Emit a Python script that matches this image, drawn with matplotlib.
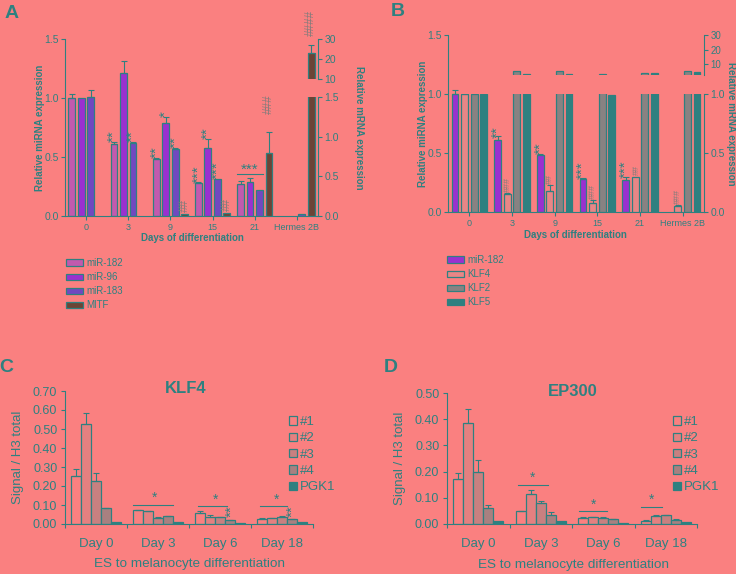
import numpy as np
import matplotlib
matplotlib.use('Agg')
from matplotlib import pyplot as plt
from matplotlib.patches import Patch

plt.rcParams['font.family'] = ['Liberation Sans', 'DejaVu Sans']

BG = '#FA8080'
TEAL = '#2E8080'
HASH = '#857B7B'

# --- panel A: miRNA / MITF time course
days = ['0', '3', '9', '15', '21', 'Hermes 2B']
mir182_a = [1.0, 0.61, 0.48, 0.28, 0.27, np.nan]
mir182_a_err = [0.03, 0.02, 0.01, 0.01, 0.03, 0]
mir96_a = [1.0, 1.21, 0.79, 0.58, 0.29, np.nan]
mir96_a_err = [0.0, 0.10, 0.05, 0.07, 0.03, 0]
mir183_a = [1.01, 0.62, 0.57, 0.31, 0.22, 0.02]
mir183_a_err = [0.06, 0.01, 0.01, 0.0, 0.0, 0]
mitf_a = [np.nan, np.nan, 0.03, 0.04, 0.80, 23.0]
mitf_a_err = [0, 0, 0, 0, 0.26, 4.0]
colors_a = ['#C25AAE', '#9A30D0', '#7148C0', '#6B4436']
labels_a = ['miR-182', 'miR-96', 'miR-183', 'MITF']

# --- panel B: miR-182 / KLF time course
mir182_b = [1.0, 0.61, 0.48, 0.28, 0.27, np.nan]
mir182_b_err = [0.03, 0.03, 0.01, 0.01, 0.03, 0]
klf4_b = [1.0, 0.15, 0.18, 0.08, 0.30, 0.05]
klf4_b_err = [0.07, 0.01, 0.05, 0.02, 0.0, 0.01]
klf2_b = [1.0, 5.0, 5.0, 3.0, 4.0, 5.5]
klf5_b = [1.0, 3.2, 3.2, 0.99, 4.0, 4.5]
colors_b = ['#9A30D0', '#E88686', '#888282', '#2E8080']
labels_b = ['miR-182', 'KLF4', 'KLF2', 'KLF5']

# --- panels C / D: ChIP
chip_days = ['Day 0', 'Day 3', 'Day 6', 'Day 18']
chip_labels = ['#1', '#2', '#3', '#4', 'PGK1']
chip_colors = [BG, '#E48080', '#C88080', '#A88080', TEAL]
klf4_c = [[0.252, 0.072, 0.058, 0.026],
          [0.527, 0.066, 0.035, 0.030],
          [0.224, 0.033, 0.035, 0.038],
          [0.084, 0.040, 0.019, 0.026],
          [0.010, 0.010, 0.004, 0.008]]
klf4_c_err = [[0.035, 0.003, 0.012, 0.007],
              [0.058, 0.002, 0.012, 0.003],
              [0.044, 0.002, 0.002, 0.003],
              [0.002, 0.004, 0.002, 0.002],
              [0.0, 0.0, 0.0, 0.0]]
ep300_d = [[0.172, 0.048, 0.023, 0.013],
           [0.385, 0.116, 0.025, 0.032],
           [0.198, 0.080, 0.024, 0.033],
           [0.061, 0.036, 0.018, 0.017],
           [0.011, 0.011, 0.002, 0.007]]
ep300_d_err = [[0.023, 0.002, 0.002, 0.002],
               [0.055, 0.015, 0.002, 0.003],
               [0.047, 0.008, 0.002, 0.002],
               [0.013, 0.009, 0.002, 0.002],
               [0.0, 0.0, 0.0, 0.0]]

W, H = 736, 574
fig = plt.figure(figsize=(W / 100, H / 100), dpi=100, facecolor=BG)


def box(x0, y0, x1, y1):  # pixel box -> figure fraction
    return [x0 / W, 1 - y1 / H, (x1 - x0) / W, (y1 - y0) / H]


def style(ax, left=True, right=False, bottom=True, fs=7.5, pad=1.5):
    ax.set_facecolor('none')
    for s in ['top', 'left', 'right', 'bottom']:
        ax.spines[s].set_color(TEAL)
    ax.spines['top'].set_visible(False)
    ax.spines['left'].set_visible(left)
    ax.spines['right'].set_visible(right)
    ax.spines['bottom'].set_visible(bottom)
    ax.tick_params(which='both', colors=TEAL, labelcolor=TEAL, labelsize=fs, length=3,
                   width=0.8, pad=pad)


def bars(ax, x, vals, err, color):
    vals = np.array(vals, dtype=float)
    ax.bar(x, vals, width=0.16, color=color, edgecolor=TEAL, linewidth=0.9)
    if err is not None:
        err = np.array(err, dtype=float)
        m = ~np.isnan(vals) & (err > 0)
        ax.errorbar(x[m], vals[m], yerr=[np.zeros(m.sum()), err[m]], fmt='none',
                    ecolor=TEAL, elinewidth=0.8, capsize=2, capthick=0.8)


def mark(ax, x, y, s, color=TEAL, size=11, rot=90):
    ax.text(x, y, s, rotation=rot, ha='center', va='bottom', fontsize=size,
            color=color, clip_on=False)


g = np.arange(6)
off4 = (np.arange(4) - 1.5) * 0.225

# ================= A
axA = fig.add_axes(box(65, 39, 318, 216))
axA_lo = fig.add_axes(box(65, 97, 318, 216))
axA_hi = fig.add_axes(box(65, 39, 318, 79))
style(axA)
style(axA_lo, left=False, right=True, bottom=False)
style(axA_hi, left=False, right=True, bottom=False)
for a in (axA, axA_lo, axA_hi):
    a.set_xlim(-0.5, 5.5)
axA.set_ylim(0, 1.5)
axA.set_yticks([0, 0.5, 1.0, 1.5])
axA.set_yticklabels(['0.0', '0.5', '1.0', '1.5'])
axA.set_xticks(g)
axA.set_xticklabels(days, fontsize=6.5)
axA.tick_params(axis='x', pad=2)
axA_lo.set_ylim(0, 1.5)
axA_lo.set_yticks([0, 0.5, 1.0, 1.5])
axA_lo.set_yticklabels(['0.0', '0.5', '1.0', '1.5'])
axA_hi.set_ylim(10, 30)
axA_hi.set_yticks([10, 20, 30])
for a in (axA_lo, axA_hi):
    a.set_xticks([])
    a.yaxis.tick_right()

bars(axA, g + off4[0], mir182_a, mir182_a_err, colors_a[0])
bars(axA, g + off4[1], mir96_a, mir96_a_err, colors_a[1])
bars(axA, g + off4[2], mir183_a, mir183_a_err, colors_a[2])
bars(axA_lo, g + off4[3], mitf_a, mitf_a_err, colors_a[3])
bars(axA_hi, g + off4[3], mitf_a, mitf_a_err, colors_a[3])

mark(axA, 1 + off4[0], 0.63, '**')
mark(axA, 1 + off4[2], 0.63, '**')
mark(axA, 2 + off4[0], 0.49, '**')
mark(axA, 2 + off4[1], 0.84, '*')
mark(axA, 2 + off4[2], 0.58, '**')
mark(axA, 3 + off4[0], 0.28, '***')
mark(axA, 3 + off4[1], 0.65, '**')
mark(axA, 3 + off4[2], 0.31, '***')
axA.plot([4 + off4[0] - 0.08, 4 + off4[2] + 0.08], [0.36, 0.36], color=TEAL, lw=0.8)
mark(axA, 4 + off4[1], 0.33, '***', rot=0)
mark(axA_lo, 2 + off4[3], 0.05, '##', HASH, 8.5)
mark(axA_lo, 3 + off4[3], 0.06, '##', HASH, 8.5)
mark(axA_lo, 4 + off4[3], 1.28, '###', HASH, 8.5)
mark(axA_hi, 5 + off4[3], 31.5, '####', HASH, 8.5)

fig.text(40 / W, 1 - 127.5 / H, 'Relative miRNA expression', rotation=90, ha='center',
         va='center', fontsize=7, fontweight='bold', color=TEAL)
fig.text(358.5 / W, 1 - 127.5 / H, 'Relative mRNA expression', rotation=270, ha='center',
         va='center', fontsize=7, fontweight='bold', color=TEAL)
fig.text(192 / W, 1 - 238 / H, 'Days of differentiation', ha='center', va='center',
         fontsize=7, fontweight='bold', color=TEAL)
fig.legend([Patch(facecolor=c, edgecolor=TEAL, linewidth=0.9) for c in colors_a], labels_a,
           loc='upper left', bbox_to_anchor=(66 / W, 1 - 258 / H), frameon=False,
           fontsize=7, labelcolor=TEAL, handlelength=1.75, handleheight=0.6,
           labelspacing=0.42, borderpad=0, borderaxespad=0, handletextpad=0.3)

# ================= B
axB = fig.add_axes(box(448, 35, 704, 212))
axB_lo = fig.add_axes(box(448, 94, 704, 212))
axB_hi = fig.add_axes(box(448, 35, 704, 75))
style(axB)
style(axB_lo, left=False, right=True, bottom=False)
style(axB_hi, left=False, right=True, bottom=False)
for a in (axB, axB_lo, axB_hi):
    a.set_xlim(-0.5, 5.5)
axB.set_ylim(0, 1.5)
axB.set_yticks([0, 0.5, 1.0, 1.5])
axB.set_yticklabels(['0.0', '0.5', '1.0', '1.5'])
axB.set_xticks(g)
axB.set_xticklabels(days, fontsize=6.5)
axB.tick_params(axis='x', pad=2)
axB_lo.set_ylim(0, 1.0)
axB_lo.set_yticks([0, 0.5, 1.0])
axB_lo.set_yticklabels(['0.0', '0.5', '1.0'])
axB_hi.set_ylim(2.5, 30)
axB_hi.set_yticks([10, 20, 30])
axB_hi.tick_params(labelsize=7)
for a in (axB_lo, axB_hi):
    a.set_xticks([])
    a.yaxis.tick_right()

bars(axB, g + off4[0], mir182_b, mir182_b_err, colors_b[0])
for a in (axB_lo, axB_hi):
    bars(a, g + off4[1], klf4_b, klf4_b_err, colors_b[1])
    bars(a, g + off4[2], klf2_b, None, colors_b[2])
    bars(a, g + off4[3], klf5_b, None, colors_b[3])

mark(axB, 1 + off4[0], 0.63, '**')
mark(axB, 2 + off4[0], 0.49, '**')
mark(axB, 3 + off4[0], 0.28, '***')
mark(axB, 4 + off4[0], 0.29, '***')
mark(axB_lo, 1 + off4[1], 0.17, '###', HASH, 6.5)
mark(axB_lo, 2 + off4[1], 0.24, '##', HASH, 6.5)
mark(axB_lo, 3 + off4[1], 0.11, '###', HASH, 6.5)
mark(axB_lo, 4 + off4[1] + 0.03, 0.31, '##', HASH, 6.5)
mark(axB_lo, 5 + off4[1], 0.07, '###', HASH, 6.5)

fig.text(423 / W, 1 - 124 / H, 'Relative miRNA expression', rotation=90, ha='center',
         va='center', fontsize=7, fontweight='bold', color=TEAL)
fig.text(731 / W, 1 - 124 / H, 'Relative mRNA expression', rotation=270, ha='center',
         va='center', fontsize=7, fontweight='bold', color=TEAL)
fig.text(575 / W, 1 - 235 / H, 'Days of differentiation', ha='center', va='center',
         fontsize=7, fontweight='bold', color=TEAL)
fig.legend([Patch(facecolor=c, edgecolor=TEAL, linewidth=0.9) for c in colors_b], labels_b,
           loc='upper left', bbox_to_anchor=(447 / W, 1 - 255 / H), frameon=False,
           fontsize=7, labelcolor=TEAL, handlelength=1.75, handleheight=0.6,
           labelspacing=0.42, borderpad=0, borderaxespad=0, handletextpad=0.3)

# ================= C / D
off5 = (np.arange(5) - 2) * 0.16
gc = np.arange(4)


def chip_panel(rect, vals, errs, ymax, title, tx, ty, legx, sig):
    ax = fig.add_axes(rect)
    style(ax, fs=9, pad=2.5)
    for k in range(5):
        ax.bar(gc + off5[k], vals[k], width=0.16, color=chip_colors[k], edgecolor=TEAL,
               linewidth=0.9)
        e = np.array(errs[k])
        m = e > 0
        if m.any():
            ax.errorbar((gc + off5[k])[m], np.array(vals[k])[m],
                        yerr=[np.zeros(m.sum()), e[m]], fmt='none', ecolor=TEAL,
                        elinewidth=0.8, capsize=2.5, capthick=0.8)
    ax.set_xlim(-0.5, 3.5)
    ax.set_ylim(0, ymax)
    yt = np.arange(0, ymax + 0.001, 0.1)
    ax.set_yticks(yt)
    ax.set_yticklabels(['%.2f' % v for v in yt])
    ax.set_xticks(np.arange(-0.5, 4, 1))
    ax.set_xticklabels([])
    ax.set_xticks(gc, minor=True)
    ax.set_xticklabels(chip_days, minor=True, fontsize=9.5)
    ax.tick_params(axis='x', which='minor', length=0, pad=10)
    ax.text(tx, ty, title, transform=ax.transAxes, ha='center', va='baseline',
            fontsize=12, fontweight='bold', color=TEAL)
    for day, y, x0, x1, xs, dbl in sig:
        ax.plot([day + x0, day + x1], [y, y], color=TEAL, lw=0.8)
        ax.text(day + xs, y, '*', ha='center', va='bottom', fontsize=10, color=TEAL)
        if dbl is not None:
            ax.text(day + dbl[0], dbl[1], '**', rotation=90, ha='center', va='bottom',
                    fontsize=11, color=TEAL)
    ax.legend([Patch(facecolor=c, edgecolor=TEAL, linewidth=0.9) for c in chip_colors],
              chip_labels, loc='upper left', bbox_to_anchor=(legx, 1 - 416 / H),
              bbox_transform=fig.transFigure, frameon=False, fontsize=9.5,
              labelcolor=TEAL, handlelength=0.6, handleheight=0.6, labelspacing=0.33,
              borderpad=0, borderaxespad=0, handletextpad=0.2)
    return ax


chip_panel(box(65, 391, 313, 524), klf4_c, klf4_c_err, 0.70, 'KLF4', 0.488, 0.985, 289 / W,
           [(1, 0.100, -0.40, 0.24, -0.06, None),
            (2, 0.093, -0.36, 0.11, -0.07, (0.18, 0.038)),
            (3, 0.093, -0.36, 0.08, -0.09, (0.17, 0.038))])
chip_panel(box(447, 393, 697, 524), ep300_d, ep300_d_err, 0.50, 'EP300', 0.504, 0.975, 673 / W,
           [(1, 0.149, -0.37, 0.11, -0.13, None),
            (2, 0.048, -0.39, 0.06, -0.16, None),
            (3, 0.064, -0.39, -0.06, -0.22, None)])

fig.text(18 / W, 1 - 457 / H, 'Signal / H3 total', rotation=90, ha='center', va='center',
         fontsize=9.5, color=TEAL)
fig.text(400 / W, 1 - 458 / H, 'Signal / H3 total', rotation=90, ha='center', va='center',
         fontsize=9.5, color=TEAL)
fig.text(190 / W, 1 - 564 / H, 'ES to melanocyte differentiation', ha='center', va='center',
         fontsize=9.7, color=TEAL)
fig.text(573 / W, 1 - 565 / H, 'ES to melanocyte differentiation', ha='center', va='center',
         fontsize=9.7, color=TEAL)

# panel letters
for s, x, y in [('A', 12, 13), ('B', 398, 12), ('C', 6, 368), ('D', 391, 368)]:
    fig.text(x / W, 1 - y / H, s, ha='center', va='center', fontsize=14, fontweight='bold',
             color=TEAL)

fig.savefig('out.png', dpi=100, facecolor=BG)
